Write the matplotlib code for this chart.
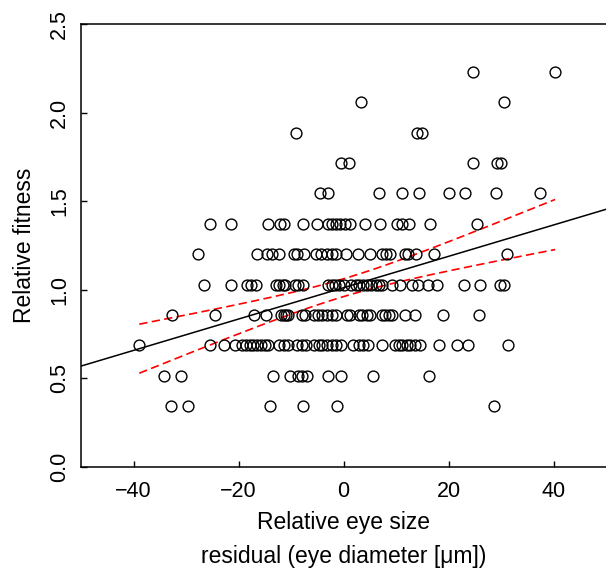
import numpy as np
import matplotlib.pyplot as plt

plt.rcParams['font.family'] = ['Liberation Sans', 'DejaVu Sans']

# relative fitness comes in steps of 1/5.83 (k offspring / mean)
fit_step = 1 / 5.83

# eye size residuals, one list per fitness level k
eye_k2 = [-32.9, -29.6, -14.0, -7.7, -1.3, 28.6]
eye_k3 = [-34.1, -31.0, -13.4, -10.2, -8.6, -7.9, -6.9, -2.9, -0.5, 5.6, 16.3]
eye_k4 = [-38.9, -25.4, -22.7, -20.6, -19.4, -18.6, -17.9, -17.2, -16.5, -15.8,
          -15.0, -14.3, -12.2, -11.3, -10.6, -8.8, -7.9, -7.1, -5.7, -4.6,
          -4.1, -3.2, -2.2, -1.4, -0.4, 1.9, 2.9, 3.8, 4.6, 7.3,
          9.8, 10.5, 11.1, 12.0, 12.7, 13.6, 14.5, 18.1, 21.6, 23.8, 31.4]
eye_k5 = [-32.7, -24.4, -17.0, -14.8, -11.9, -11.4, -11.0, -10.5, -7.9, -7.3,
          -5.6, -4.8, -4.1, -3.2, -2.2, -1.4, 0.6, 1.2, 2.9, 3.6,
          4.4, 5.0, 7.3, 7.9, 8.6, 9.3, 11.8, 13.6, 18.9, 25.9]
eye_k6 = [-26.5, -21.5, -18.4, -17.7, -16.6, -12.9, -12.2, -11.6, -11.1, -9.2,
          -8.6, -7.7, -2.9, -2.2, -1.6, -0.8, 0.0, 1.4, 2.3, 3.0,
          3.7, 4.5, 5.3, 6.2, 6.8, 7.4, 9.2, 10.8, 13.0, 14.2,
          16.0, 17.8, 23.0, 26.0, 29.8, 30.6]
eye_k7 = [-27.7, -16.4, -14.6, -13.6, -12.2, -9.5, -8.9, -7.6, -5.2, -4.3,
          -3.2, -2.2, -1.4, 0.5, 2.7, 5.0, 7.3, 8.0, 8.9, 11.7,
          12.2, 13.8, 17.3, 31.2]
eye_k8 = [-25.5, -21.5, -14.3, -12.1, -11.4, -7.7, -5.0, -3.0, -2.2, -1.4,
          -0.6, 0.2, 1.2, 4.0, 7.0, 10.2, 11.2, 12.4, 16.4, 25.5]
eye_k9 = [-4.4, -3.0, 6.7, 11.2, 14.4, 20.1, 23.2, 29.0, 37.5]
eye_k10 = [-0.5, 1.1, 24.6, 29.2, 30.0]
eye_k11 = [-9.1, 14.0, 14.9]
eye_k12 = [3.3, 30.6]
eye_k13 = [24.6, 40.3]

levels = {2: eye_k2, 3: eye_k3, 4: eye_k4, 5: eye_k5, 6: eye_k6, 7: eye_k7,
          8: eye_k8, 9: eye_k9, 10: eye_k10, 11: eye_k11, 12: eye_k12, 13: eye_k13}

x_ticks = [-40, -20, 0, 20, 40]
y_ticks = [0.0, 0.5, 1.0, 1.5, 2.0, 2.5]

x = np.concatenate([np.array(v, dtype=float) for v in levels.values()])
y = np.concatenate([np.full(len(v), k * fit_step) for k, v in levels.items()])

# linear fit + 95% confidence band of the mean
n = len(x)
slope, intercept = np.polyfit(x, y, 1)
resid = y - (intercept + slope * x)
s = np.sqrt(np.sum(resid**2) / (n - 2))
sxx = np.sum((x - x.mean())**2)
t_crit = 1.97
xs = np.linspace(x.min(), x.max(), 200)
ys = intercept + slope * xs
half = t_crit * s * np.sqrt(1 / n + (xs - x.mean())**2 / sxx)

W, H = 606, 571
fig = plt.figure(figsize=(W / 100, H / 100), dpi=100)
ax = fig.add_axes([81 / W, 1 - 467 / H, 1 - 81 / W, (467 - 24) / H])

ax.plot(x, y, 'o', mfc='none', mec='black', ms=7.8, mew=1.0, zorder=3)

xl = np.array([-50, 50])
ax.plot(xl, intercept + slope * xl, color='black', lw=1.1)
ax.plot(xs, ys + half, color='red', lw=1.2, dashes=(5, 2.6))
ax.plot(xs, ys - half, color='red', lw=1.2, dashes=(5, 2.6))

ax.set_xlim(-50, 50)
ax.set_ylim(0, 2.5)
ax.set_xticks(x_ticks)
ax.set_xticklabels(['\u2212' + str(abs(v)) if v < 0 else str(v) for v in x_ticks])
ax.set_yticks(y_ticks)
ax.set_yticklabels([f"{v:.1f}" for v in y_ticks], rotation=90, va='center')
ax.tick_params(direction='in', length=4.5, width=1.0, labelsize=15.5)
ax.tick_params(axis='x', pad=10)
ax.tick_params(axis='y', pad=8)
for side in ['left', 'top', 'bottom']:
    ax.spines[side].set_linewidth(1.1)
ax.spines['right'].set_visible(False)

fig.text(25 / W, 1 - 245.5 / H, 'Relative fitness', rotation=90,
         ha='center', va='center', fontsize=16.5)
fig.text(343.5 / W, 1 - 523 / H, 'Relative eye size',
         ha='center', va='center', fontsize=16.5)
fig.text(343.5 / W, 1 - 556 / H, 'residual (eye diameter [\u03bcm])',
         ha='center', va='center', fontsize=16.5)

fig.savefig('out.png', dpi=100)
